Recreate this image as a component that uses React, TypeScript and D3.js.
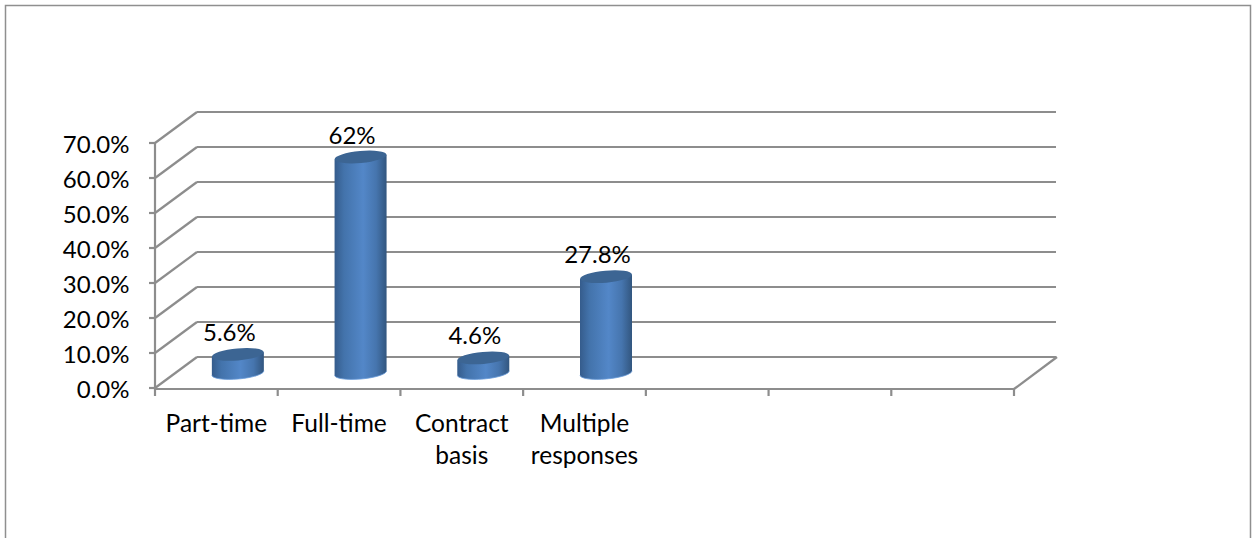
import React from "react";
import * as d3 from "d3";

const categories = ["Part-time", "Full-time", "Contract basis", "Multiple responses", "", "", ""];
const values = [5.6, 62, 4.6, 27.8];
const valueLabels = ["5.6%", "62%", "4.6%", "27.8%"];
const yTicks = [0, 10, 20, 30, 40, 50, 60, 70];
const categoryLines = [["Part-time"], ["Full-time"], ["Contract", "basis"], ["Multiple", "responses"]];

const GRID = "#8d8d8d";
const FONT = "Lato, Carlito, sans-serif";

// Oblique offset of the back wall relative to the front axes
const DEPTH_X = 42;
const DEPTH_Y = -31;
const TILT = -5;
const RX = 26;
const RY = 6;

export default function App() {
  const x = d3.scaleBand<string>()
    .domain(categories.map((c, i) => `${i}:${c}`))
    .range([155, 1014]);
  const y = d3.scaleLinear().domain([0, 70]).range([388, 143]);
  const base = y(0);
  const dy = RX * Math.sin((-TILT * Math.PI) / 180);
  const bandEdges = d3.range(categories.length + 1).map((i) => 155 + i * x.step());
  const cylinderX = (i: number) =>
    (x(`${i}:${categories[i]}`) as number) + x.bandwidth() / 2 + 21.5;

  return (
    <svg width={1253} height={538} style={{ position: "absolute", left: 0, top: 0, fontFamily: FONT }}>
      <defs>
        <linearGradient id="cyl" x1="0" x2="1" y1="0" y2="0">
          <stop offset="0" stopColor="#355c8c" />
          <stop offset="0.18" stopColor="#4373ab" />
          <stop offset="0.55" stopColor="#5387c8" />
          <stop offset="0.8" stopColor="#4675ae" />
          <stop offset="1" stopColor="#32567f" />
        </linearGradient>
      </defs>

      {/* frame: open along the bottom */}
      <path d="M5.5 538V5.5H1250.5V538" fill="none" stroke="#8f8f8f" strokeWidth={1.5} />

      {/* back wall gridlines and side wall slants */}
      {yTicks.map((t) => (
        <g key={t} stroke={GRID} strokeWidth={2.2} fill="none">
          <line x1={155 + DEPTH_X} x2={1014 + DEPTH_X} y1={y(t) + DEPTH_Y} y2={y(t) + DEPTH_Y} />
          <line x1={155} x2={155 + DEPTH_X} y1={y(t)} y2={y(t) + DEPTH_Y} />
          <line x1={149} x2={155} y1={y(t)} y2={y(t)} />
        </g>
      ))}

      {/* floor edges and axes */}
      <g stroke={GRID} strokeWidth={2.2} fill="none">
        <line x1={155} x2={155} y1={y(70)} y2={396} />
        <line x1={155} x2={1014} y1={389} y2={389} />
        <line x1={1014} x2={1014 + DEPTH_X + 1} y1={389} y2={389 + DEPTH_Y - 1} />
        {bandEdges.slice(1).map((e) => (
          <line key={e} x1={e} x2={e} y1={389} y2={396} />
        ))}
      </g>

      {/* y axis labels */}
      {yTicks.map((t) => (
        <text key={t} x={129.5} y={y(t) + 10} textAnchor="end" fontSize={24} fill="#000">
          {`${t.toFixed(1)}%`}
        </text>
      ))}

      {/* cylinders */}
      {values.map((v, i) => {
        const cx = cylinderX(i);
        const bottom = base - 15;
        const top = base - 14 - (y(0) - y(v));
        const shape =
          `M${cx - RX} ${top + dy}L${cx - RX} ${bottom + dy}` +
          `A${RX} ${RY} ${TILT} 0 0 ${cx + RX} ${bottom - dy}` +
          `L${cx + RX} ${top - dy}Z`;
        return (
          <g key={i}>
            <path d={shape} fill="url(#cyl)" />
            <path
              d={`M${cx - RX} ${bottom + dy}A${RX} ${RY} ${TILT} 0 0 ${cx + RX} ${bottom - dy}`}
              fill="none"
              stroke="#6c9ddb"
              strokeWidth={1}
              opacity={0.8}
            />
            <ellipse
              cx={cx}
              cy={top}
              rx={RX}
              ry={RY}
              transform={`rotate(${TILT} ${cx} ${top})`}
              fill="#3c6593"
            />
          </g>
        );
      })}

      {/* value labels sit up and to the left of each cap */}
      {values.map((v, i) => {
        const top = base - 14 - (y(0) - y(v));
        return (
          <text key={i} x={cylinderX(i) - 8.5} y={top - 13.5} textAnchor="middle" fontSize={24} fill="#000">
            {valueLabels[i]}
          </text>
        );
      })}

      {/* category labels */}
      {categoryLines.map((lines, i) => {
        const cx = (x(`${i}:${categories[i]}`) as number) + x.bandwidth() / 2;
        return (
          <text key={i} textAnchor="middle" fontSize={24.5} fill="#000">
            {lines.map((l, j) => (
              <tspan key={j} x={cx} y={431.5 + j * 32}>
                {l}
              </tspan>
            ))}
          </text>
        );
      })}
    </svg>
  );
}
